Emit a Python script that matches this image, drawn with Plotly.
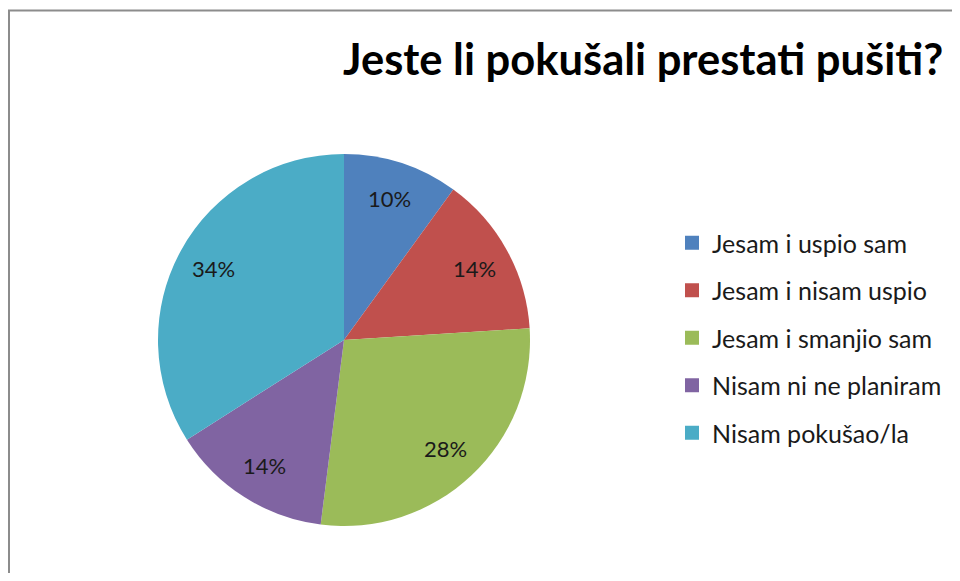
import numpy as np
import plotly.graph_objects as go

# survey answers and shares (%)
labels = [
    "Jesam i uspio sam",
    "Jesam i nisam uspio",
    "Jesam i smanjio sam",
    "Nisam ni ne planiram",
    "Nisam pokušao/la",
]
values = [10, 14, 28, 14, 34]
colors = ["#4F81BD", "#C0504D", "#9BBB59", "#8064A2", "#4BACC6"]

# page body adds an 8px margin, so the figure is sized to fit without scrollbars
W, H = 952, 565
FONT = "Lato"

CX, CY, R = 336, 332, 186  # pie centre / radius in figure pixels

fig = go.Figure()

fig.add_trace(
    go.Pie(
        labels=labels,
        values=values,
        sort=False,
        direction="clockwise",
        rotation=0,
        marker=dict(colors=colors, line=dict(width=0)),
        textinfo="none",
        showlegend=False,
        hoverinfo="label+percent",
        domain=dict(
            x=[(CX - R) / W, (CX + R) / W],
            y=[1 - (CY + R) / H, 1 - (CY - R) / H],
        ),
    )
)

# percentage labels at 0.8 of the radius, like the Excel layout
vals = np.array(values, dtype=float)
share = vals / vals.sum()
mid = (np.cumsum(share) - share / 2) * 2 * np.pi
annotations = []
for s, a in zip(share, mid):
    px = CX + 0.8 * R * np.sin(a)
    py = CY - 0.8 * R * np.cos(a)
    annotations.append(
        dict(
            text=f"{s * 100:.0f}%",
            x=px / W,
            y=1 - py / H,
            xref="paper",
            yref="paper",
            showarrow=False,
            xanchor="center",
            yanchor="middle",
            font=dict(family=FONT, size=22, color="#1A1A1A"),
        )
    )

# legend entries, one group each so the gap can be set
for i, (lab, col) in enumerate(zip(labels, colors)):
    fig.add_trace(
        go.Scatter(
            x=[None],
            y=[None],
            mode="markers",
            name=lab,
            legendgroup=f"g{i}",
            marker=dict(symbol="square", size=14, color=col),
        )
    )

frame = dict(color="#8C8C8C", width=2)

fig.update_layout(
    width=W,
    height=H,
    margin=dict(l=0, r=0, t=0, b=0),
    paper_bgcolor="white",
    plot_bgcolor="white",
    xaxis=dict(visible=False),
    yaxis=dict(visible=False),
    annotations=annotations,
    title=dict(
        text="<b>Jeste li pokušali prestati pušiti?</b>",
        x=335 / W,
        xanchor="left",
        y=1 - 52 / H,
        yanchor="middle",
        font=dict(family=FONT, size=43.5, color="#000000"),
    ),
    legend=dict(
        x=664 / W,
        y=1 - 212 / H,
        xanchor="left",
        yanchor="top",
        traceorder="grouped",
        tracegroupgap=12,
        font=dict(family=FONT, size=25, color="#1A1A1A"),
        bgcolor="rgba(0,0,0,0)",
    ),
    shapes=[
        # chart-area frame: only the left and top edges are inside the window
        dict(type="line", xref="paper", yref="paper",
             x0=1 / W, x1=1 / W, y0=0, y1=1 - 2.5 / H, line=frame),
        dict(type="line", xref="paper", yref="paper",
             x0=0, x1=1, y0=1 - 2.5 / H, y1=1 - 2.5 / H, line=frame),
    ],
)

fig.write_html("out.html")
